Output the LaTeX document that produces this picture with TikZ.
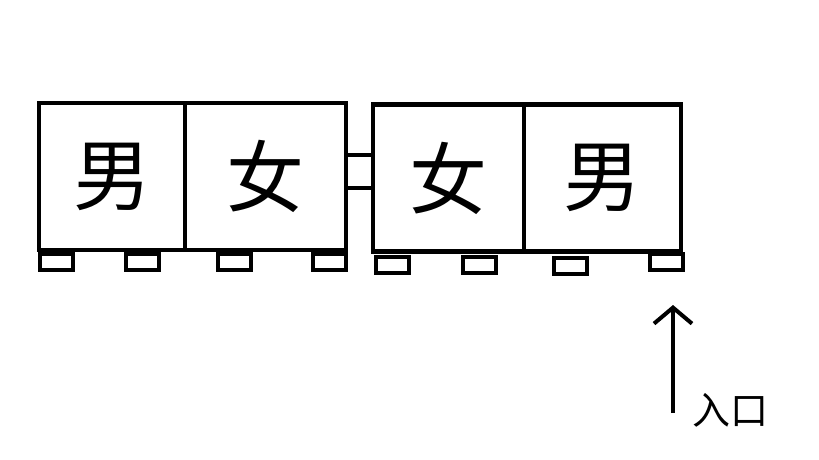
\documentclass[tikz,border=0pt]{standalone}
\usepackage{fontspec}
\newfontfamily\cjk{Noto Sans CJK SC}
\usepackage{tikz}
\usetikzlibrary{arrows.meta,positioning}
\tikzstyle{room} = [rectangle, draw=black, line width=4.5pt, inner sep=0pt, minimum height=147pt, font=\cjk\fontsize{78}{78}\selectfont]
\tikzstyle{wheel} = [rectangle, draw=black, line width=4pt, inner sep=0pt, minimum width=33pt, minimum height=16pt]
\tikzstyle{arrow} = [line width=4pt, -{Straight Barb[length=16pt,width=38pt,line width=4pt]}]

\begin{document}
\begin{tikzpicture}[x=1pt, y=-1pt]
    \useasboundingbox (0,0) rectangle (819,460);

    % first car
    \node[room, minimum width=146pt] (m1) at (112, 176.5) {男};
    \node[room, minimum width=161pt] (f1) at (265.5, 176.5) {女};

    % coupling
    \node[rectangle, draw=black, line width=4pt, inner sep=0pt, minimum width=27pt, minimum height=33pt] (link) at (359.5, 171.5) {};

    % second car
    \node[room, minimum width=151pt] (f2) at (448.5, 178) {女};
    \node[room, minimum width=157pt] (m2) at (602.5, 178) {男};

    % wheels
    \node[wheel] (w1) at (56, 262) {};
    \node[wheel] (w2) at (142.5, 262) {};
    \node[wheel] (w3) at (234, 262) {};
    \node[wheel] (w4) at (329, 262) {};
    \node[wheel] (w5) at (392, 265) {};
    \node[wheel] (w6) at (479.5, 265) {};
    \node[wheel] (w7) at (570, 266) {};
    \node[wheel] (w8) at (666, 262) {};

    % entrance
    \coordinate (foot) at (673, 413);
    \coordinate (tip) at (673, 305);
    \node[font=\cjk\fontsize{38}{38}\selectfont] (door) at (730, 410) {入口};
    \draw[arrow] (foot) -- (tip);
\end{tikzpicture}
\end{document}
